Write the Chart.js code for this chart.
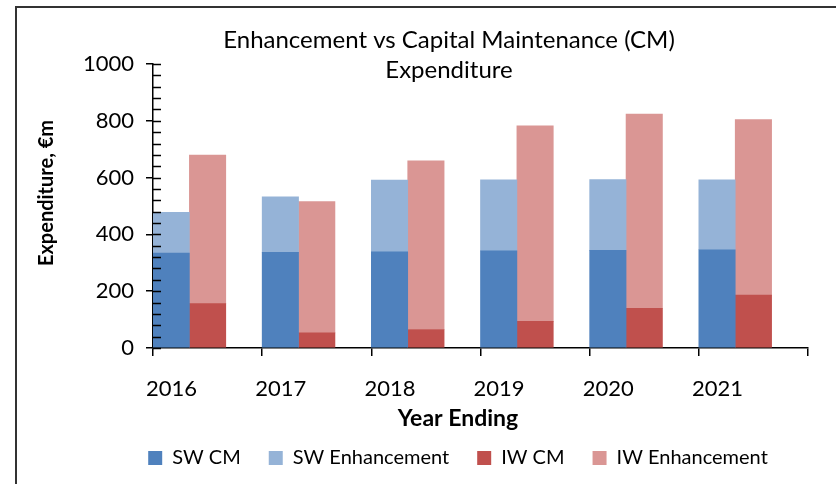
<!DOCTYPE html>
<html>
<head>
<meta charset="utf-8">
<script src="https://cdn.jsdelivr.net/npm/chart.js@4/dist/chart.umd.min.js"></script>
<style>
  html, body { margin: 0; padding: 0; background: #fff; overflow: hidden; }
  #wrap { position: relative; width: 836px; height: 484px; }
  #frame { position: absolute; left: 15px; top: 6px; width: 900px; height: 600px; border: 2px solid #333; }
  canvas { position: absolute; left: 0; top: 0; }
</style>
</head>
<body>
<div id="wrap">
  <div id="frame"></div>
  <canvas id="myChart" width="836" height="484"></canvas>
</div>
<script>
// chart data
const years = ['2016', '2017', '2018', '2019', '2020', '2021'];
const swCM = [334, 337, 339, 342, 344, 346];
const swEnh = [144, 195, 252, 250, 249, 246];
const iwCM = [156, 53, 65, 94, 140, 186];
const iwEnh = [523, 463, 594, 688, 684, 618];
const titleLines = ['Enhancement vs Capital Maintenance (CM)', 'Expenditure'];
const xTitle = 'Year Ending';
const yTitle = 'Expenditure, €m';
const yMin = 0, yMax = 1000, yStep = 200, yMinor = 40;

const font = 'Lato';

// titles are centred on the frame, not on the plot, so draw them here
const overlayTitles = {
  id: 'overlayTitles',
  afterDraw(chart) {
    const ctx = chart.ctx;
    ctx.save();
    ctx.fillStyle = '#000';
    ctx.textAlign = 'center';
    ctx.textBaseline = 'middle';
    ctx.font = '24px ' + font;
    titleLines.forEach((t, i) => ctx.fillText(t, 449, 40 + i * 30));
    ctx.font = 'bold 23px ' + font;
    ctx.fillText(xTitle, 458, 419);
    ctx.translate(47, 193);
    ctx.rotate(-Math.PI / 2);
    ctx.font = 'bold 20px ' + font;
    ctx.fillText(yTitle, 0, 0);
    ctx.restore();
  },
  afterLayout(chart) {
    // nudge the legend under the frame centre
    const lg = chart.legend;
    lg.left += 39;
    lg.right += 39;
    lg.top -= 4;
    lg.bottom -= 4;
  }
};

// small inward tick marks on the value axis
const minorTicks = {
  id: 'minorTicks',
  afterDatasetsDraw(chart) {
    const ctx = chart.ctx;
    const y = chart.scales.y;
    const x0 = chart.chartArea.left;
    ctx.save();
    ctx.strokeStyle = '#000';
    ctx.lineWidth = 1.3;
    ctx.beginPath();
    for (let v = yMin; v <= yMax; v += yMinor) {
      const py = Math.round(y.getPixelForValue(v)) + 0.5;
      ctx.moveTo(x0, py);
      ctx.lineTo(x0 + 8, py);
    }
    ctx.stroke();
    ctx.restore();
  }
};

const ctx = document.getElementById('myChart');

new Chart(ctx, {
  type: 'bar',
  data: {
    labels: years,
    datasets: [
      { label: 'SW CM', data: swCM, backgroundColor: '#4F81BD', stack: 'sw' },
      { label: 'SW Enhancement', data: swEnh, backgroundColor: '#95B3D7', stack: 'sw' },
      { label: 'IW CM', data: iwCM, backgroundColor: '#C0504D', stack: 'iw' },
      { label: 'IW Enhancement', data: iwEnh, backgroundColor: '#DA9694', stack: 'iw' },
      { label: '', data: years.map(() => null), stack: 'gap' }
    ]
  },
  options: {
    responsive: false,
    animation: false,
    datasets: {
      bar: { categoryPercentage: 1, barPercentage: 1 }
    },
    layout: {
      padding: { left: 30, top: 64, right: 28, bottom: 2 }
    },
    scales: {
      x: {
        stacked: true,
        afterFit: s => { s.height = 76; },
        border: { color: '#000', width: 1.5 },
        grid: {
          offset: true,
          drawOnChartArea: false,
          color: '#000',
          lineWidth: 1.5,
          tickLength: 8
        },
        ticks: {
          color: '#000',
          font: { family: font, size: 22 },
          padding: 20,
          labelOffset: -36,
          maxRotation: 0
        }
      },
      y: {
        stacked: true,
        min: yMin,
        max: yMax,
        afterFit: s => { s.width = 123; },
        border: { color: '#000', width: 1.5 },
        grid: {
          drawOnChartArea: false,
          color: '#000',
          lineWidth: 1.5,
          tickLength: 7
        },
        ticks: {
          stepSize: yStep,
          color: '#000',
          font: { family: font, size: 22 },
          padding: 12,
          callback: v => String(v)
        }
      }
    },
    plugins: {
      legend: {
        position: 'bottom',
        labels: {
          color: '#000',
          font: { family: font, size: 20 },
          boxWidth: 14,
          boxHeight: 14,
          padding: 28,
          filter: item => item.text !== ''
        }
      },
      tooltip: { enabled: false }
    }
  },
  plugins: [overlayTitles, minorTicks]
});
</script>
</body>
</html>
